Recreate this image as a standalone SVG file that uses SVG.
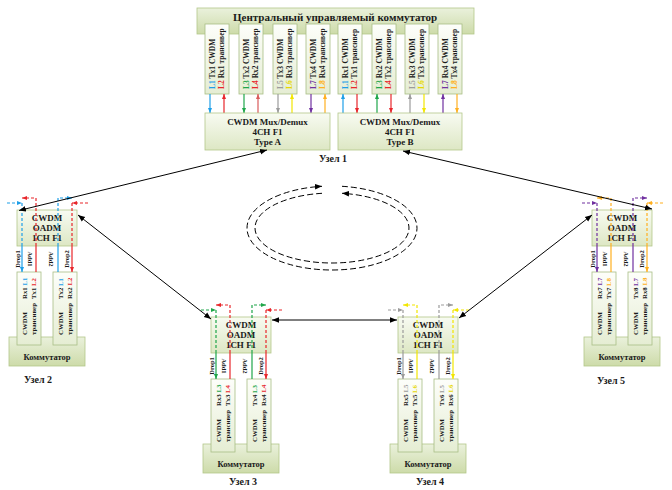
<svg xmlns="http://www.w3.org/2000/svg" width="672" height="490" viewBox="0 0 672 490">
<defs>
<linearGradient id="gSw" x1="0" y1="0" x2="0" y2="1"><stop offset="0" stop-color="#eaf1dc"/><stop offset="1" stop-color="#cddba9"/></linearGradient>
<linearGradient id="gTr" x1="0" y1="0" x2="0" y2="1"><stop offset="0" stop-color="#fdfefa"/><stop offset="1" stop-color="#e5edd3"/></linearGradient>
<linearGradient id="gBx" x1="0" y1="0" x2="0" y2="1"><stop offset="0" stop-color="#f8fbf2"/><stop offset="1" stop-color="#dde7c4"/></linearGradient>
<marker id="mK" viewBox="0 0 10 10" refX="10" refY="5" markerWidth="7" markerHeight="7" markerUnits="userSpaceOnUse" orient="auto-start-reverse"><path d="M0,1 L10,5 L0,9z" fill="#000"/></marker>
<marker id="mB" viewBox="0 0 10 10" refX="10" refY="5" markerWidth="5" markerHeight="5" markerUnits="userSpaceOnUse" orient="auto"><path d="M0,1 L10,5 L0,9z" fill="#1e9fe8"/></marker>
<marker id="mR" viewBox="0 0 10 10" refX="10" refY="5" markerWidth="5" markerHeight="5" markerUnits="userSpaceOnUse" orient="auto"><path d="M0,1 L10,5 L0,9z" fill="#e8262b"/></marker>
<marker id="mR2" viewBox="0 0 10 10" refX="10" refY="5" markerWidth="5" markerHeight="5" markerUnits="userSpaceOnUse" orient="auto"><path d="M0,1 L10,5 L0,9z" fill="#d95b5b"/></marker>
<marker id="mG" viewBox="0 0 10 10" refX="10" refY="5" markerWidth="5" markerHeight="5" markerUnits="userSpaceOnUse" orient="auto"><path d="M0,1 L10,5 L0,9z" fill="#1fa64a"/></marker>
<marker id="mGy" viewBox="0 0 10 10" refX="10" refY="5" markerWidth="5" markerHeight="5" markerUnits="userSpaceOnUse" orient="auto"><path d="M0,1 L10,5 L0,9z" fill="#9b9b9b"/></marker>
<marker id="mY" viewBox="0 0 10 10" refX="10" refY="5" markerWidth="5" markerHeight="5" markerUnits="userSpaceOnUse" orient="auto"><path d="M0,1 L10,5 L0,9z" fill="#f2e600"/></marker>
<marker id="mP" viewBox="0 0 10 10" refX="10" refY="5" markerWidth="5" markerHeight="5" markerUnits="userSpaceOnUse" orient="auto"><path d="M0,1 L10,5 L0,9z" fill="#7030a0"/></marker>
<marker id="mO" viewBox="0 0 10 10" refX="10" refY="5" markerWidth="5" markerHeight="5" markerUnits="userSpaceOnUse" orient="auto"><path d="M0,1 L10,5 L0,9z" fill="#ffb020"/></marker>
</defs>
<style>
.sw{fill:url(#gSw);stroke:#b3c78a;stroke-width:0.8}
.tr{fill:url(#gTr);stroke:#a9bd85;stroke-width:0.8}
.bx{fill:url(#gBx);stroke:#b3c78a;stroke-width:0.8}
.t{font-family:"Liberation Serif","Times New Roman",serif;font-weight:bold;fill:#1a1a1a}
.c{text-anchor:middle}
.f11{font-size:11px}
.f9{font-size:9px}
.f10{font-size:10px}
.f85{font-size:8.5px}
.vt{font-size:7.5px}
.ot{font-size:6.8px}
.lb{font-size:6.5px}
.ln{fill:none;stroke-width:1.2}
.ds{stroke-dasharray:3 2}
.k{fill:none;stroke:#000;stroke-width:1}
.ring{fill:none;stroke:#000;stroke-width:1;stroke-dasharray:6 3}
.cB{fill:#1e9fe8}.cR{fill:#e8262b}.cG{fill:#1fa64a}.cGy{fill:#9b9b9b}.cY{fill:#e6d800}.cP{fill:#7030a0}.cO{fill:#ffb020}
</style>
<rect width="672" height="490" fill="#fff"/>

<g id="node1">
<rect class="sw" x="197" y="8" width="277" height="26"/>
<text class="t f11 c" x="335" y="21">Центральный управляемый коммутатор</text>
<rect class="tr" x="205" y="24" width="24" height="70"/>
<rect class="tr" x="239" y="24" width="24" height="70"/>
<rect class="tr" x="273" y="24" width="24" height="70"/>
<rect class="tr" x="306" y="24" width="24" height="70"/>
<rect class="tr" x="338" y="24" width="24" height="70"/>
<rect class="tr" x="372" y="24" width="24" height="70"/>
<rect class="tr" x="405" y="24" width="24" height="70"/>
<rect class="tr" x="438" y="24" width="24" height="70"/>
<text class="t vt" transform="translate(214.5,89) rotate(-90)"><tspan class="cB">L1</tspan> Tx1 CWDM</text>
<text class="t vt" transform="translate(223.5,89) rotate(-90)"><tspan class="cR">L2</tspan> Rx1 трансивер</text>
<text class="t vt" transform="translate(248.5,89) rotate(-90)"><tspan class="cG">L3</tspan> Tx2 CWDM</text>
<text class="t vt" transform="translate(257.5,89) rotate(-90)"><tspan class="cR">L4</tspan> Rx2 трансивер</text>
<text class="t vt" transform="translate(282.5,89) rotate(-90)"><tspan class="cGy">L5</tspan> Tx3 CWDM</text>
<text class="t vt" transform="translate(291.5,89) rotate(-90)"><tspan class="cY">L6</tspan> Rx3 трансивер</text>
<text class="t vt" transform="translate(315.5,89) rotate(-90)"><tspan class="cP">L7</tspan> Tx4 CWDM</text>
<text class="t vt" transform="translate(324.5,89) rotate(-90)"><tspan class="cO">L8</tspan> Rx4 трансивер</text>
<text class="t vt" transform="translate(347.5,89) rotate(-90)"><tspan class="cB">L1</tspan> Rx1 CWDM</text>
<text class="t vt" transform="translate(356.5,89) rotate(-90)"><tspan class="cR">L2</tspan> Tx1 трансивер</text>
<text class="t vt" transform="translate(381.5,89) rotate(-90)"><tspan class="cG">L3</tspan> Rx2 CWDM</text>
<text class="t vt" transform="translate(390.5,89) rotate(-90)"><tspan class="cR">L4</tspan> Tx2 трансивер</text>
<text class="t vt" transform="translate(414.5,89) rotate(-90)"><tspan class="cGy">L5</tspan> Rx3 CWDM</text>
<text class="t vt" transform="translate(423.5,89) rotate(-90)"><tspan class="cY">L6</tspan> Tx3 трансивер</text>
<text class="t vt" transform="translate(447.5,89) rotate(-90)"><tspan class="cP">L7</tspan> Rx4 CWDM</text>
<text class="t vt" transform="translate(456.5,89) rotate(-90)"><tspan class="cO">L8</tspan> Tx4 трансивер</text>
<path class="ln" stroke="#1e9fe8" d="M210,94V113" marker-end="url(#mB)"/>
<path class="ln" stroke="#e8262b" d="M224,113V94" marker-end="url(#mR)"/>
<path class="ln" stroke="#1fa64a" d="M244,94V113" marker-end="url(#mG)"/>
<path class="ln" stroke="#d95b5b" d="M258,113V94" marker-end="url(#mR2)"/>
<path class="ln" stroke="#9b9b9b" d="M278,94V113" marker-end="url(#mGy)"/>
<path class="ln" stroke="#f2e600" d="M292,113V94" marker-end="url(#mY)"/>
<path class="ln" stroke="#7030a0" d="M311,94V113" marker-end="url(#mP)"/>
<path class="ln" stroke="#ffb020" d="M325,113V94" marker-end="url(#mO)"/>
<path class="ln" stroke="#1e9fe8" d="M343,113V94" marker-end="url(#mB)"/>
<path class="ln" stroke="#e8262b" d="M357,94V113" marker-end="url(#mR)"/>
<path class="ln" stroke="#1fa64a" d="M377,113V94" marker-end="url(#mG)"/>
<path class="ln" stroke="#e8262b" d="M391,94V113" marker-end="url(#mR)"/>
<path class="ln" stroke="#9b9b9b" d="M410,113V94" marker-end="url(#mGy)"/>
<path class="ln" stroke="#f2e600" d="M424,94V113" marker-end="url(#mY)"/>
<path class="ln" stroke="#7030a0" d="M443,113V94" marker-end="url(#mP)"/>
<path class="ln" stroke="#ffb020" d="M457,94V113" marker-end="url(#mO)"/>
<rect class="bx" x="205" y="113" width="125" height="37"/>
<text class="t f9 c" x="267.5" y="125">CWDM Mux/Demux</text>
<text class="t f9 c" x="267.5" y="135">4CH F1</text>
<text class="t f9 c" x="267.5" y="145">Type A</text>
<rect class="bx" x="338" y="113" width="124" height="37"/>
<text class="t f9 c" x="400" y="125">CWDM Mux/Demux</text>
<text class="t f9 c" x="400" y="135">4CH F1</text>
<text class="t f9 c" x="400" y="145">Type B</text>
<text class="t f10 c" x="333" y="162">Узел 1</text>
</g>

<g id="node2">
<rect class="bx" x="17" y="210" width="60" height="36"/>
<text class="t f9 c" x="47" y="221">CWDM</text>
<text class="t f9 c" x="47" y="231">OADM</text>
<text class="t f9 c" x="47" y="241">1CH F1</text>
<rect class="sw" x="9" y="337" width="76" height="29"/>
<text class="t f85 c" x="47" y="360">Коммутатор</text>
<rect class="tr" x="17" y="272" width="24" height="73"/>
<rect class="tr" x="53" y="272" width="24" height="73"/>
<text class="t ot" transform="translate(26.5,335) rotate(-90)">CWDM</text>
<text class="t ot" transform="translate(35.5,335) rotate(-90)">трансивер</text>
<text class="t ot" transform="translate(26.5,299) rotate(-90)">Rx1 <tspan class="cB">L1</tspan></text>
<text class="t ot" transform="translate(35.5,299) rotate(-90)">Tx1 <tspan class="cR">L2</tspan></text>
<text class="t ot" transform="translate(62.5,335) rotate(-90)">CWDM</text>
<text class="t ot" transform="translate(71.5,335) rotate(-90)">трансивер</text>
<text class="t ot" transform="translate(62.5,299) rotate(-90)">Tx2 <tspan class="cB">L1</tspan></text>
<text class="t ot" transform="translate(71.5,299) rotate(-90)">Rx2 <tspan class="cR">L2</tspan></text>
<path class="ln ds" stroke="#1e9fe8" d="M7,203H22" marker-end="url(#mB)"/>
<path class="ln ds" stroke="#1e9fe8" d="M22,203V246"/>
<path class="ln" stroke="#1e9fe8" d="M22,246V272" marker-end="url(#mB)"/>
<path class="ln" stroke="#e8262b" d="M36,272V246"/>
<path class="ln ds" stroke="#e8262b" d="M36,246V198H22" marker-end="url(#mR)"/>
<path class="ln" stroke="#1e9fe8" d="M58,272V246"/>
<path class="ln ds" stroke="#1e9fe8" d="M58,246V198H72" marker-end="url(#mB)"/>
<path class="ln ds" stroke="#e8262b" d="M88,203H72" marker-end="url(#mR)"/>
<path class="ln ds" stroke="#e8262b" d="M72,203V246"/>
<path class="ln" stroke="#e8262b" d="M72,246V272" marker-end="url(#mR)"/>
<text class="t lb c" transform="translate(20,259) rotate(-90)">Drop1</text>
<text class="t lb c" transform="translate(28,259) rotate(90)">Add1</text>
<text class="t lb c" transform="translate(49,259) rotate(90)">Add2</text>
<text class="t lb c" transform="translate(68.5,259) rotate(-90)">Drop2</text>
<text class="t f10 c" x="38" y="383">Узел 2</text>
</g>

<g id="node3">
<rect class="bx" x="211" y="317" width="60" height="36"/>
<text class="t f9 c" x="241" y="328">CWDM</text>
<text class="t f9 c" x="241" y="338">OADM</text>
<text class="t f9 c" x="241" y="348">1CH F1</text>
<rect class="sw" x="203" y="444" width="76" height="29"/>
<text class="t f85 c" x="241" y="467">Коммутатор</text>
<rect class="tr" x="211" y="379" width="24" height="73"/>
<rect class="tr" x="247" y="379" width="24" height="73"/>
<text class="t ot" transform="translate(220.5,442) rotate(-90)">CWDM</text>
<text class="t ot" transform="translate(229.5,442) rotate(-90)">трансивер</text>
<text class="t ot" transform="translate(220.5,406) rotate(-90)">Rx3 <tspan class="cG">L3</tspan></text>
<text class="t ot" transform="translate(229.5,406) rotate(-90)">Tx3 <tspan class="cR">L4</tspan></text>
<text class="t ot" transform="translate(256.5,442) rotate(-90)">CWDM</text>
<text class="t ot" transform="translate(265.5,442) rotate(-90)">трансивер</text>
<text class="t ot" transform="translate(256.5,406) rotate(-90)">Tx4 <tspan class="cG">L3</tspan></text>
<text class="t ot" transform="translate(265.5,406) rotate(-90)">Rx4 <tspan class="cR">L4</tspan></text>
<path class="ln ds" stroke="#1fa64a" d="M201,310H216" marker-end="url(#mG)"/>
<path class="ln ds" stroke="#1fa64a" d="M216,310V353"/>
<path class="ln" stroke="#1fa64a" d="M216,353V379" marker-end="url(#mG)"/>
<path class="ln" stroke="#e8262b" d="M230,379V353"/>
<path class="ln ds" stroke="#e8262b" d="M230,353V305H216" marker-end="url(#mR)"/>
<path class="ln" stroke="#1fa64a" d="M252,379V353"/>
<path class="ln ds" stroke="#1fa64a" d="M252,353V305H266" marker-end="url(#mG)"/>
<path class="ln ds" stroke="#e8262b" d="M282,310H266" marker-end="url(#mR)"/>
<path class="ln ds" stroke="#e8262b" d="M266,310V353"/>
<path class="ln" stroke="#e8262b" d="M266,353V379" marker-end="url(#mR)"/>
<text class="t lb c" transform="translate(214,366) rotate(-90)">Drop1</text>
<text class="t lb c" transform="translate(222,366) rotate(90)">Add1</text>
<text class="t lb c" transform="translate(243,366) rotate(90)">Add2</text>
<text class="t lb c" transform="translate(262.5,366) rotate(-90)">Drop2</text>
<text class="t f10 c" x="243" y="485">Узел 3</text>
</g>

<g id="node4">
<rect class="bx" x="398" y="317" width="60" height="36"/>
<text class="t f9 c" x="428" y="328">CWDM</text>
<text class="t f9 c" x="428" y="338">OADM</text>
<text class="t f9 c" x="428" y="348">1CH F1</text>
<rect class="sw" x="390" y="444" width="76" height="29"/>
<text class="t f85 c" x="428" y="467">Коммутатор</text>
<rect class="tr" x="398" y="379" width="24" height="73"/>
<rect class="tr" x="434" y="379" width="24" height="73"/>
<text class="t ot" transform="translate(407.5,442) rotate(-90)">CWDM</text>
<text class="t ot" transform="translate(416.5,442) rotate(-90)">трансивер</text>
<text class="t ot" transform="translate(407.5,406) rotate(-90)">Rx5 <tspan class="cGy">L5</tspan></text>
<text class="t ot" transform="translate(416.5,406) rotate(-90)">Tx5 <tspan class="cY">L6</tspan></text>
<text class="t ot" transform="translate(443.5,442) rotate(-90)">CWDM</text>
<text class="t ot" transform="translate(452.5,442) rotate(-90)">трансивер</text>
<text class="t ot" transform="translate(443.5,406) rotate(-90)">Tx6 <tspan class="cGy">L5</tspan></text>
<text class="t ot" transform="translate(452.5,406) rotate(-90)">Rx6 <tspan class="cY">L6</tspan></text>
<path class="ln ds" stroke="#9b9b9b" d="M388,310H403" marker-end="url(#mGy)"/>
<path class="ln ds" stroke="#9b9b9b" d="M403,310V353"/>
<path class="ln" stroke="#9b9b9b" d="M403,353V379" marker-end="url(#mGy)"/>
<path class="ln" stroke="#f2e600" d="M417,379V353"/>
<path class="ln ds" stroke="#f2e600" d="M417,353V305H403" marker-end="url(#mY)"/>
<path class="ln" stroke="#9b9b9b" d="M439,379V353"/>
<path class="ln ds" stroke="#9b9b9b" d="M439,353V305H453" marker-end="url(#mGy)"/>
<path class="ln ds" stroke="#f2e600" d="M469,310H453" marker-end="url(#mY)"/>
<path class="ln ds" stroke="#f2e600" d="M453,310V353"/>
<path class="ln" stroke="#f2e600" d="M453,353V379" marker-end="url(#mY)"/>
<text class="t lb c" transform="translate(401,366) rotate(-90)">Drop1</text>
<text class="t lb c" transform="translate(409,366) rotate(90)">Add1</text>
<text class="t lb c" transform="translate(430,366) rotate(90)">Add2</text>
<text class="t lb c" transform="translate(449.5,366) rotate(-90)">Drop2</text>
<text class="t f10 c" x="430" y="485">Узел 4</text>
</g>

<g id="node5">
<rect class="bx" x="592" y="210" width="60" height="36"/>
<text class="t f9 c" x="622" y="221">CWDM</text>
<text class="t f9 c" x="622" y="231">OADM</text>
<text class="t f9 c" x="622" y="241">1CH F1</text>
<rect class="sw" x="584" y="337" width="76" height="29"/>
<text class="t f85 c" x="622" y="360">Коммутатор</text>
<rect class="tr" x="592" y="272" width="24" height="73"/>
<rect class="tr" x="628" y="272" width="24" height="73"/>
<text class="t ot" transform="translate(601.5,335) rotate(-90)">CWDM</text>
<text class="t ot" transform="translate(610.5,335) rotate(-90)">трансивер</text>
<text class="t ot" transform="translate(601.5,299) rotate(-90)">Rx7 <tspan class="cP">L7</tspan></text>
<text class="t ot" transform="translate(610.5,299) rotate(-90)">Tx7 <tspan class="cO">L8</tspan></text>
<text class="t ot" transform="translate(637.5,335) rotate(-90)">CWDM</text>
<text class="t ot" transform="translate(646.5,335) rotate(-90)">трансивер</text>
<text class="t ot" transform="translate(637.5,299) rotate(-90)">Tx8 <tspan class="cP">L7</tspan></text>
<text class="t ot" transform="translate(646.5,299) rotate(-90)">Rx8 <tspan class="cO">L8</tspan></text>
<path class="ln ds" stroke="#7030a0" d="M582,203H597" marker-end="url(#mP)"/>
<path class="ln ds" stroke="#7030a0" d="M597,203V246"/>
<path class="ln" stroke="#7030a0" d="M597,246V272" marker-end="url(#mP)"/>
<path class="ln" stroke="#ffb020" d="M611,272V246"/>
<path class="ln ds" stroke="#ffb020" d="M611,246V198H597" marker-end="url(#mO)"/>
<path class="ln" stroke="#7030a0" d="M633,272V246"/>
<path class="ln ds" stroke="#7030a0" d="M633,246V198H647" marker-end="url(#mP)"/>
<path class="ln ds" stroke="#ffb020" d="M663,203H647" marker-end="url(#mO)"/>
<path class="ln ds" stroke="#ffb020" d="M647,203V246"/>
<path class="ln" stroke="#ffb020" d="M647,246V272" marker-end="url(#mO)"/>
<text class="t lb c" transform="translate(595,259) rotate(-90)">Drop1</text>
<text class="t lb c" transform="translate(603,259) rotate(90)">Add1</text>
<text class="t lb c" transform="translate(624,259) rotate(90)">Add2</text>
<text class="t lb c" transform="translate(643.5,259) rotate(-90)">Drop2</text>
<text class="t f10 c" x="611" y="384">Узел 5</text>
</g>

<g id="ring">
<path class="ring" d="M342,186.3 A85,42 0 1 1 322,186.3" marker-end="url(#mK)"/>
<path class="ring" d="M322,193.3 A77,35 0 1 0 342,193.3" marker-end="url(#mK)"/>
</g>

<g id="connectors">
<path class="k" d="M19,210.5 L267,150" marker-start="url(#mK)" marker-end="url(#mK)"/>
<path class="k" d="M78,215 L211,319" marker-start="url(#mK)" marker-end="url(#mK)"/>
<path class="k" d="M272,320 L397,320" marker-start="url(#mK)" marker-end="url(#mK)"/>
<path class="k" d="M459,318 L592,215" marker-start="url(#mK)" marker-end="url(#mK)"/>
<path class="k" d="M652,209 L403,151" marker-start="url(#mK)" marker-end="url(#mK)"/>
</g>
</svg>
